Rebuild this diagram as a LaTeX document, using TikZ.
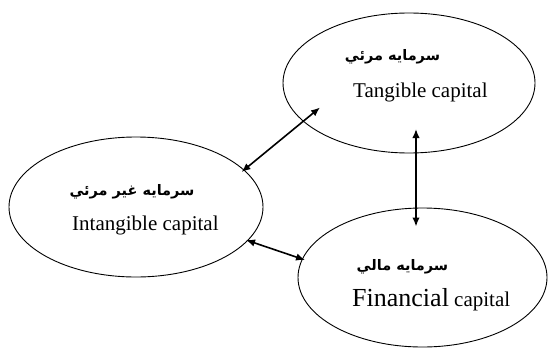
\documentclass[tikz,border=0pt]{standalone}
\usepackage{fontspec}
\setmainfont{Liberation Serif}
\newfontfamily\arabicfont[Script=Arabic]{DejaVu Sans}
\TeXXeTstate=1
\usetikzlibrary{shapes.geometric,arrows.meta}
\begin{document}
\begin{tikzpicture}[x=1pt,y=-1pt,
  capell/.style={draw,ellipse,line width=0.9pt,inner sep=0pt},
  artext/.style={font=\arabicfont\bfseries\fontsize{14.5}{16}\selectfont,inner sep=0pt,anchor=center},
  entext/.style={font=\fontsize{21}{24}\selectfont,inner sep=0pt,anchor=base west},
  link/.style={line width=1.6pt,{Latex[length=9pt,width=7.5pt]}-{Latex[length=9pt,width=7.5pt]}}]
\useasboundingbox (0,0) rectangle (548,348);
% ellipses
\node[capell,minimum width=252pt,minimum height=140pt] (tang) at (409,83) {};
\node[capell,minimum width=254pt,minimum height=140pt] (intang) at (136,207) {};
\node[capell,minimum width=249pt,minimum height=139pt] (fin) at (422.5,277.5) {};
% texts
\node[artext] (tangar) at (392.5,57) {\beginR سرمايه مرئي\endR};
\node[entext] (tangen) at (353,97) {Tangible capital};
\node[artext] (intangar) at (132,192) {\beginR سرمايه غير مرئي\endR};
\node[entext] (intangen) at (72,230) {Intangible capital};
\node[artext] (finar) at (402.5,267) {\beginR سرمايه مالي\endR};
\node[entext] (finen) at (352,306.5) {{\fontsize{26}{28}\selectfont Financial} capital};
% arrow ends
\coordinate (a1) at (241.5,172);
\coordinate (a2) at (320,107.5);
\coordinate (b1) at (416,129);
\coordinate (b2) at (416,226.5);
\coordinate (c1) at (246,240);
\coordinate (c2) at (305,260);
\draw[link] (a1) -- (a2);
\draw[link] (b1) -- (b2);
\draw[link] (c1) -- (c2);
\end{tikzpicture}
\end{document}
